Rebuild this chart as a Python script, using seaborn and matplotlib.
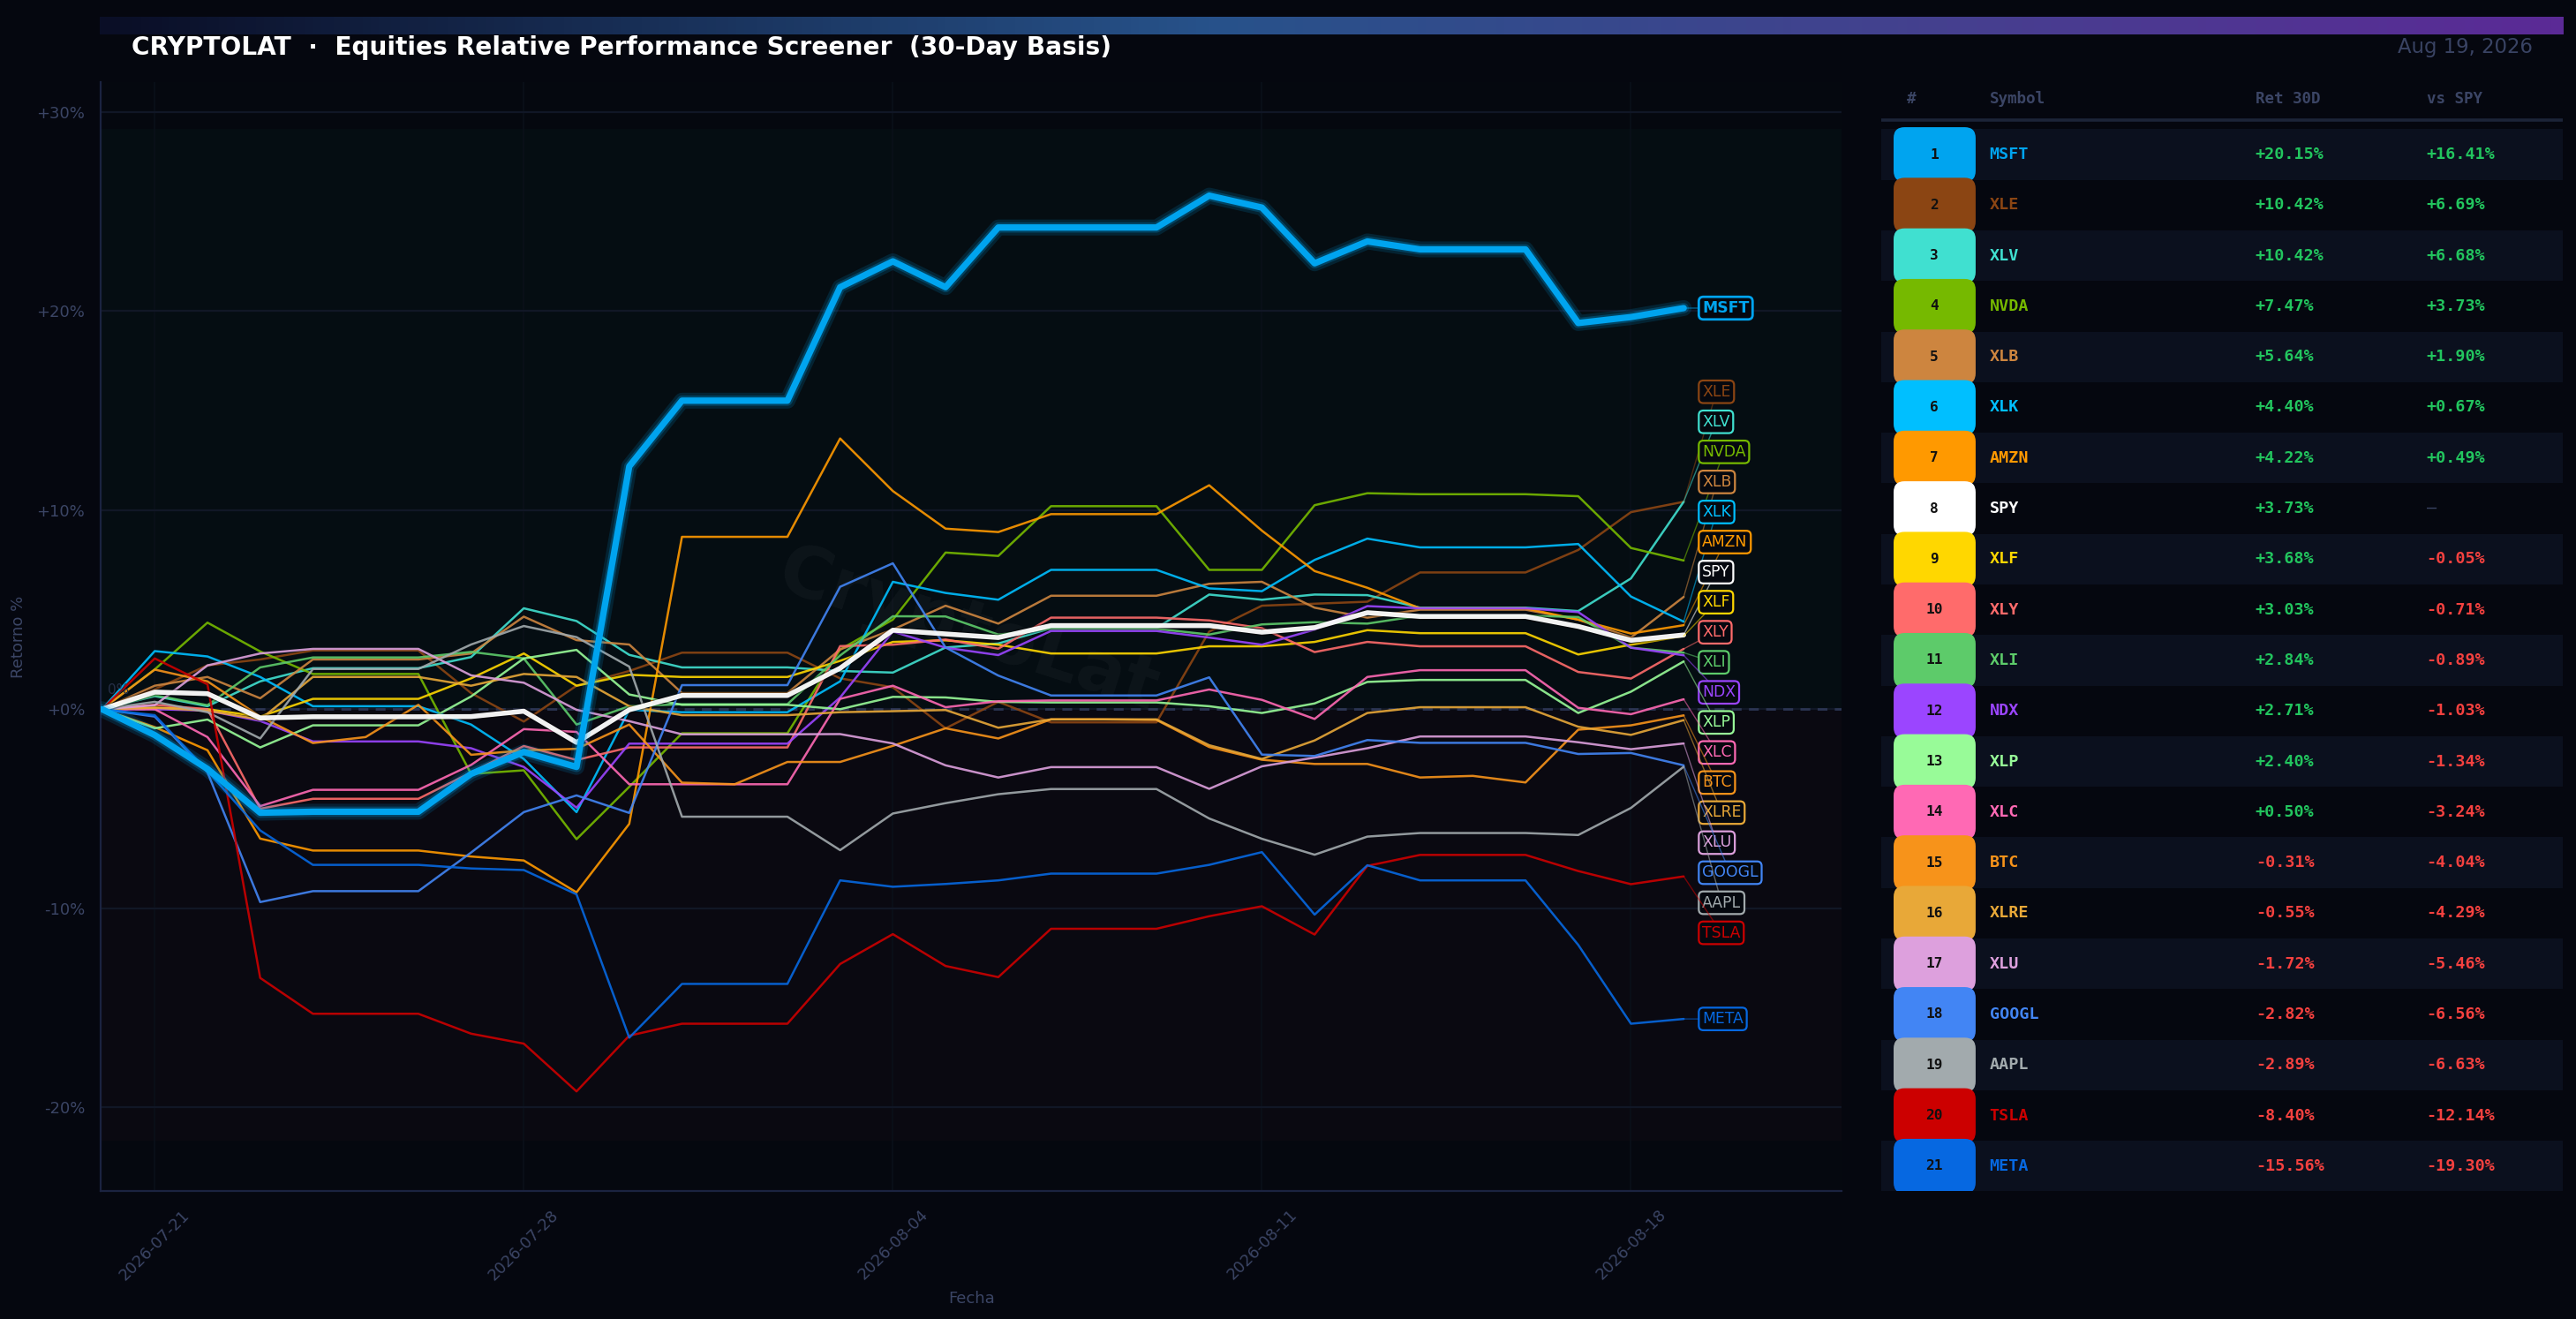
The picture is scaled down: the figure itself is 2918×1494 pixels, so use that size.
import numpy as np
import pandas as pd
import matplotlib
matplotlib.use("Agg")
import matplotlib.pyplot as plt
import matplotlib.dates as mdates
from matplotlib.patches import FancyBboxPatch, Rectangle
from matplotlib.colors import LinearSegmentedColormap
import seaborn as sns

# ---------------- data ----------------
dates = pd.date_range("2026-07-20", "2026-08-19", freq="D")

MSFT = [0.0, -1.3, -3.0, -5.2, -5.15, -5.15, -5.15, -3.25, -2.15, -2.9, 12.2, 15.5, 15.5, 15.5, 21.2, 22.5,
        21.2, 24.2, 24.2, 24.2, 24.2, 25.8, 25.2, 22.4, 23.5, 23.1, 23.1, 23.1, 19.4, 19.7, 20.15]
XLE = [0.0, 1.0, 2.2, 2.5, 2.95, 2.95, 2.95, 0.81, -0.62, 1.18, 1.92, 2.84, 2.84, 2.84, 1.55, 1.1,
       -0.96, 0.37, -0.66, -0.66, -0.66, 3.9, 5.2, 5.3, 5.4, 6.87, 6.87, 6.87, 8.0, 9.9, 10.42]
XLV = [0.0, 0.66, 0.15, 1.4, 2.06, 2.06, 2.06, 2.62, 5.07, 4.43, 2.73, 2.1, 2.1, 2.1, 1.92, 1.84,
       3.1, 3.3, 4.07, 4.07, 4.07, 5.76, 5.5, 5.76, 5.73, 5.1, 5.1, 5.1, 4.93, 6.57, 10.42]
NVDA = [0.0, 2.0, 4.35, 2.9, 1.77, 1.77, 1.77, -3.25, -3.07, -6.53, -3.9, -1.21, -1.21, -1.21, 3.0, 4.5,
        7.87, 7.7, 10.2, 10.2, 10.2, 7.0, 7.0, 10.25, 10.85, 10.8, 10.8, 10.8, 10.7, 8.1, 7.47]
XLB = [0.0, 1.18, 1.62, 0.55, 2.5, 2.5, 2.5, 2.8, 4.65, 3.47, 3.25, 0.81, 0.81, 0.81, 3.0, 4.0,
       5.2, 4.3, 5.7, 5.7, 5.7, 6.3, 6.4, 5.1, 4.6, 5.0, 5.0, 5.0, 4.5, 3.6, 5.64]
XLK = [0.0, 2.92, 2.65, 1.62, 0.15, 0.15, 0.15, -0.77, -2.5, -5.17, -0.03, -0.15, -0.15, -0.15, 1.4, 6.4,
       5.84, 5.5, 7.0, 7.0, 7.0, 6.07, 5.93, 7.5, 8.57, 8.13, 8.13, 8.13, 8.3, 5.66, 4.40]
AMZN = [0.0, -0.9, -2.06, -6.5, -7.1, -7.1, -7.1, -7.4, -7.6, -9.2, -5.76, 8.66, 8.66, 8.66, 13.6, 10.96,
        9.07, 8.9, 9.8, 9.8, 9.8, 11.25, 8.97, 6.94, 6.1, 5.07, 5.07, 5.07, 4.5, 3.8, 4.22]
SPY = [0.0, 0.86, 0.78, -0.44, -0.38, -0.38, -0.38, -0.37, -0.1, -1.67, -0.03, 0.69, 0.69, 0.69, 2.06, 3.97,
       3.78, 3.6, 4.2, 4.2, 4.2, 4.2, 3.87, 4.1, 4.85, 4.66, 4.66, 4.66, 4.16, 3.46, 3.73]
XLF = [0.0, 0.07, 0.0, -0.37, 0.52, 0.52, 0.52, 1.55, 2.8, 1.18, 1.73, 1.62, 1.62, 1.62, 2.43, 3.38,
       3.46, 3.24, 2.8, 2.8, 2.8, 3.16, 3.16, 3.38, 3.97, 3.82, 3.82, 3.82, 2.75, 3.24, 3.68]
XLY = [0.0, 0.22, 0.0, -5.0, -4.5, -4.5, -4.5, -3.18, -1.85, -2.55, -1.92, -1.92, -1.92, -1.92, 3.17, 3.24,
       3.5, 3.04, 4.6, 4.6, 4.6, 4.46, 4.07, 2.87, 3.38, 3.16, 3.16, 3.16, 1.87, 1.54, 3.03]
XLI = [0.0, 0.7, 0.2, 2.1, 2.6, 2.6, 2.6, 2.88, 2.55, -0.77, 0.15, 0.25, 0.25, 0.25, 2.7, 4.67,
       4.66, 3.75, 4.04, 4.04, 4.04, 3.75, 4.26, 4.37, 4.3, 4.7, 4.7, 4.7, 4.63, 3.09, 2.84]
NDX = [0.0, 0.0, -0.07, -0.59, -1.62, -1.62, -1.62, -1.96, -2.9, -4.95, -1.73, -1.73, -1.73, -1.73, 0.59, 3.9,
       3.09, 2.72, 3.93, 3.93, 3.93, 3.6, 3.24, 4.0, 5.18, 5.07, 5.07, 5.07, 4.88, 3.09, 2.71]
XLP = [0.0, -0.96, -0.52, -1.92, -0.81, -0.81, -0.81, 0.64, 2.55, 2.98, 0.74, 0.22, 0.22, 0.22, 0.0, 0.62,
       0.59, 0.37, 0.34, 0.34, 0.34, 0.15, -0.19, 0.29, 1.37, 1.47, 1.47, 1.47, -0.19, 0.88, 2.40]
XLC = [0.0, 0.0, -1.4, -4.87, -4.05, -4.05, -4.05, -2.8, -1.0, -1.14, -3.77, -3.77, -3.77, -3.77, 0.52, 1.18,
       0.1, 0.4, 0.44, 0.44, 0.44, 0.99, 0.47, -0.49, 1.62, 1.96, 1.96, 1.96, 0.07, -0.25, 0.50]
BTC = [0.0, 1.99, 1.4, -0.37, -1.7, -1.4, 0.22, -2.29, -2.07, -1.99, -0.77, -3.69, -3.77, -2.65, -2.65, -1.84,
       -0.96, -1.47, -0.51, -0.51, -0.54, -1.9, -2.54, -2.75, -2.75, -3.43, -3.35, -3.68, -1.03, -0.81, -0.31]
XLRE = [0.0, 0.07, -0.07, -0.52, 1.62, 1.62, 1.62, 1.18, 1.77, 1.62, 0.15, -0.3, -0.3, -0.3, -0.15, -0.1,
        -0.04, -0.93, -0.51, -0.51, -0.51, -1.81, -2.5, -1.57, -0.19, 0.1, 0.1, 0.1, -0.88, -1.29, -0.55]
XLU = [0.0, 0.2, 2.2, 2.8, 3.03, 3.03, 3.03, 1.7, 1.33, -0.03, -0.6, -1.26, -1.26, -1.26, -1.25, -1.72,
       -2.82, -3.43, -2.91, -2.91, -2.91, -4.0, -2.87, -2.43, -1.96, -1.37, -1.37, -1.37, -1.66, -2.01, -1.72]
GOOGL = [0.0, -0.37, -3.17, -9.69, -9.14, -9.14, -9.14, -7.2, -5.17, -4.33, -5.21, 1.21, 1.21, 1.21, 6.15, 7.33,
         3.1, 1.69, 0.69, 0.69, 0.69, 1.6, -2.28, -2.35, -1.55, -1.69, -1.69, -1.69, -2.25, -2.2, -2.82]
AAPL = [0.0, 0.37, -0.15, -1.47, 2.02, 2.02, 2.02, 3.25, 4.18, 3.62, 2.14, -5.4, -5.4, -5.4, -7.08, -5.24,
        -4.72, -4.27, -4.01, -4.01, -4.01, -5.49, -6.51, -7.31, -6.4, -6.22, -6.22, -6.22, -6.32, -4.96, -2.89]
TSLA = [0.0, 2.55, 1.25, -13.5, -15.3, -15.3, -15.3, -16.3, -16.8, -19.2, -16.4, -15.8, -15.8, -15.8, -12.8, -11.3,
        -12.9, -13.46, -11.03, -11.03, -11.03, -10.4, -9.9, -11.32, -7.87, -7.32, -7.32, -7.32, -8.13, -8.79, -8.40]
META = [0.0, -0.3, -3.1, -6.09, -7.82, -7.82, -7.82, -8.0, -8.08, -9.3, -16.5, -13.8, -13.8, -13.8, -8.6, -8.92,
        -8.78, -8.6, -8.26, -8.26, -8.26, -7.82, -7.18, -10.32, -7.84, -8.6, -8.6, -8.6, -11.84, -15.8, -15.56]

symbols = ["MSFT", "XLE", "XLV", "NVDA", "XLB", "XLK", "AMZN", "SPY", "XLF", "XLY", "XLI",
           "NDX", "XLP", "XLC", "BTC", "XLRE", "XLU", "GOOGL", "AAPL", "TSLA", "META"]
ret_30d = [20.15, 10.42, 10.42, 7.47, 5.64, 4.40, 4.22, 3.73, 3.68, 3.03, 2.84,
           2.71, 2.40, 0.50, -0.31, -0.55, -1.72, -2.82, -2.89, -8.40, -15.56]
vs_spy = [16.41, 6.69, 6.68, 3.73, 1.90, 0.67, 0.49, None, -0.05, -0.71, -0.89,
          -1.03, -1.34, -3.24, -4.04, -4.29, -5.46, -6.56, -6.63, -12.14, -19.30]
colors = ["#00A4EF", "#8B4513", "#40E0D0", "#76B900", "#CD853F", "#00BFFF", "#FF9900", "#FFFFFF",
          "#FFD700", "#FF6B6B", "#5DCB6A", "#9B45FF", "#98FB98", "#FF69B4", "#F7931A", "#E8A838",
          "#DDA0DD", "#4285F4", "#A2AAAD", "#CC0000", "#0668E1"]

series = {"MSFT": MSFT, "XLE": XLE, "XLV": XLV, "NVDA": NVDA, "XLB": XLB, "XLK": XLK, "AMZN": AMZN,
          "SPY": SPY, "XLF": XLF, "XLY": XLY, "XLI": XLI, "NDX": NDX, "XLP": XLP, "XLC": XLC,
          "BTC": BTC, "XLRE": XLRE, "XLU": XLU, "GOOGL": GOOGL, "AAPL": AAPL, "TSLA": TSLA, "META": META}
cmap_sym = dict(zip(symbols, colors))

# ---------------- style ----------------
sns.set_style("dark")
plt.rcParams["font.family"] = ["DejaVu Sans"]
BG = "#05070f"
MUTED = "#3b4565"
fig = plt.figure(figsize=(14.59, 7.47), dpi=200, facecolor=BG)

# gradient bar
gax = fig.add_axes([0.0388, 0.9739, 0.9562, 0.0134])
grad_cmap = LinearSegmentedColormap.from_list(
    "g", [(0.0, "#0a0e26"), (0.45, "#27528a"), (0.75, "#45408f"), (1.0, "#5b2a96")])
gax.imshow(np.linspace(0, 1, 600)[None, :], aspect="auto", cmap=grad_cmap)
gax.axis("off")

fig.text(0.051, 0.964, "CRYPTOLAT  \u00b7  Equities Relative Performance Screener  (30-Day Basis)",
         ha="left", va="center", fontsize=10.1, fontweight="bold", color="white")
fig.text(0.983, 0.964, "Aug 19, 2026", ha="right", va="center", fontsize=8.2, color="#394363")

# ---------------- main axes ----------------
ax = fig.add_axes([0.0392, 0.0971, 0.6758, 0.8406])
ax.set_facecolor("#05080f")
allvals = np.concatenate([np.array(v) for v in series.values()])
ax.axhspan(0, allvals.max() * 1.13, color="#050d12", zorder=0.1, lw=0)
ax.axhspan(allvals.min() * 1.13, 0, color="#0a0911", zorder=0.1, lw=0)

draw_order = [s for s in symbols if s not in ("SPY", "MSFT")]
for s in draw_order:
    sns.lineplot(x=dates, y=series[s], ax=ax, color=cmap_sym[s], lw=0.9, alpha=0.9, zorder=3, legend=False)
sns.lineplot(x=dates, y=SPY, ax=ax, color="#000000", lw=3.0, alpha=0.35, zorder=4, legend=False)
sns.lineplot(x=dates, y=SPY, ax=ax, color="#FFFFFF", lw=2.0, alpha=0.95, zorder=4.1, legend=False)
sns.lineplot(x=dates, y=MSFT, ax=ax, color=cmap_sym["MSFT"], lw=6.5, alpha=0.15, zorder=5, legend=False)
sns.lineplot(x=dates, y=MSFT, ax=ax, color=cmap_sym["MSFT"], lw=4.2, alpha=0.25, zorder=5.1, legend=False)
sns.lineplot(x=dates, y=MSFT, ax=ax, color=cmap_sym["MSFT"], lw=2.6, alpha=1.0, zorder=5.2, legend=False)

ax.axhline(0, color="#2b3552", lw=1.0, ls=(0, (4, 3)), zorder=2)
ax.text(mdates.date2num(dates[0]) + 0.1, 0.95, "0%", fontsize=5.5, color="#262f48", va="center", ha="left")

x0 = mdates.date2num(dates[0])
x1 = mdates.date2num(dates[-1])
ax.set_xlim(x0 - 0.02, x1 + 3.0)
ax.set_ylim(-24.2, 31.5)

yt = [-20, -10, 0, 10, 20, 30]
ax.set_yticks(yt)
ax.set_yticklabels([f"{v:+d}%" for v in yt])
xt = dates[1::7]
ax.set_xticks(mdates.date2num(xt))
ax.set_xticklabels([d.strftime("%Y-%m-%d") for d in xt], rotation=45, ha="center")
ax.tick_params(axis="both", colors="#2a3350", labelcolor=MUTED, labelsize=6.5, length=3, width=0.6)
ax.grid(True, axis="y", color="#111726", lw=0.8)
ax.grid(True, axis="x", color="#0b1019", lw=0.6)
ax.set_axisbelow(True)
for sp in ("top", "right"):
    ax.spines[sp].set_visible(False)
for sp in ("left", "bottom"):
    ax.spines[sp].set_color("#1b2340")
    ax.spines[sp].set_linewidth(0.8)
ax.set_xlabel("Fecha", color=MUTED, fontsize=6.5, labelpad=3)
ax.set_ylabel("Retorno %", color=MUTED, fontsize=6.5, labelpad=4)

ax.text(0.498, 0.505, "CryptoLat", transform=ax.transAxes, fontsize=29, fontweight="bold",
        color="white", alpha=0.035, rotation=-18, ha="center", va="center", zorder=1)

# end labels with simple 1D cluster repel
finals = [series[s][-1] for s in symbols]
GAP = 1.51


def spread(vals, gap):
    order = sorted(range(len(vals)), key=lambda i: -vals[i])
    groups = [[i] for i in order]

    def layout(g):
        c = np.mean([vals[i] for i in g])
        n = len(g)
        return [c + gap * ((n - 1) / 2 - k) for k in range(n)]

    changed = True
    while changed:
        changed = False
        for j in range(len(groups) - 1):
            a, b = layout(groups[j]), layout(groups[j + 1])
            if a[-1] - b[0] < gap:
                groups[j] = groups[j] + groups[j + 1]
                del groups[j + 1]
                changed = True
                break
    pos = {}
    for g in groups:
        for i, p in zip(g, layout(g)):
            pos[i] = p
    return pos


lab_pos = spread(finals, GAP)
for i, s in enumerate(symbols):
    c = cmap_sym[s]
    bold = s == "MSFT"
    ax.annotate(s, xy=(x1, finals[i]), xytext=(x1 + 0.35, lab_pos[i]), ha="left", va="center",
                fontsize=6.2, color=c, fontweight="bold" if bold else "normal", zorder=7,
                bbox=dict(boxstyle="round,pad=0.22,rounding_size=0.3", fc="#05080f", ec=c,
                          lw=1.0 if bold else 0.8),
                arrowprops=dict(arrowstyle="-", color=c, lw=0.5, alpha=0.55, shrinkA=0, shrinkB=0))

# ---------------- table ----------------
tax = fig.add_axes([0.7302, 0.0971, 0.2647, 0.8406])
YTOP, YBOT = -1.43, 20.49
tax.set_xlim(0, 1)
tax.set_ylim(YBOT, YTOP)
tax.axis("off")
W = 0.2647 * fig.get_figwidth() * fig.dpi
H = 0.8406 * fig.get_figheight() * fig.dpi
aspect = W / (H / (YBOT - YTOP))

mono = "DejaVu Sans Mono"
hy = -1.10
tax.text(0.045, hy, "#", ha="center", va="center", family=mono, fontweight="bold", fontsize=6.3, color=MUTED)
tax.text(0.159, hy, "Symbol", ha="left", va="center", family=mono, fontweight="bold", fontsize=6.3, color=MUTED)
tax.text(0.549, hy, "Ret 30D", ha="left", va="center", family=mono, fontweight="bold", fontsize=6.3, color=MUTED)
tax.text(0.800, hy, "vs SPY", ha="left", va="center", family=mono, fontweight="bold", fontsize=6.3, color=MUTED)
tax.plot([0, 1], [-0.68, -0.68], color="#1c2438", lw=1.3, solid_capstyle="butt")

GREEN, RED = "#22c55e", "#f5413f"
for i, s in enumerate(symbols):
    if i % 2 == 0:
        tax.add_patch(Rectangle((0, i - 0.5), 1, 1, fc="#0b101e", ec="none", zorder=1))
for i, s in enumerate(symbols):
    c = cmap_sym[s]
    tax.add_patch(FancyBboxPatch((0.0185, i - 0.54), 0.1203, 1.08,
                                 boxstyle="round,pad=0,rounding_size=0.016",
                                 mutation_aspect=aspect, fc=c, ec="none", zorder=2))
    tax.text(0.078, i, str(i + 1), ha="center", va="center", family=mono, fontweight="bold",
             fontsize=5.8, color="#111111", zorder=3)
    tax.text(0.159, i, s, ha="left", va="center", family=mono, fontweight="bold",
             fontsize=6.6, color=c, zorder=3)
    r = ret_30d[i]
    tax.text(0.549, i, f"{r:+.2f}%", ha="left", va="center", family=mono, fontweight="bold",
             fontsize=6.6, color=GREEN if r >= 0 else RED, zorder=3)
    v = vs_spy[i]
    if v is None:
        tax.text(0.800, i, "\u2014", ha="left", va="center", family=mono, fontsize=6.6,
                 color=MUTED, zorder=3)
    else:
        tax.text(0.800, i, f"{v:+.2f}%", ha="left", va="center", family=mono, fontweight="bold",
                 fontsize=6.6, color=GREEN if v >= 0 else RED, zorder=3)

fig.savefig("out.png", dpi=200, facecolor=BG)
